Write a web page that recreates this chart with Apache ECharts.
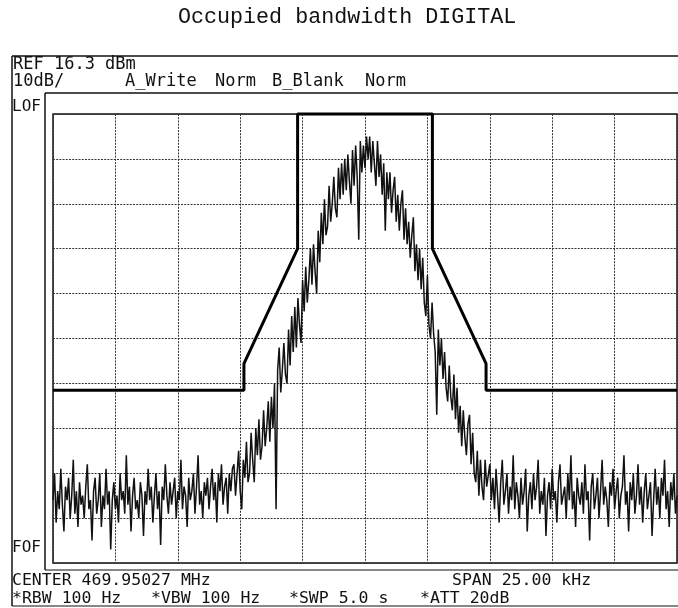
<!DOCTYPE html>
<html>
<head>
<meta charset="utf-8">
<script src="https://cdn.jsdelivr.net/npm/echarts@6/dist/echarts.min.js"></script>
<style>
  html, body { margin: 0; padding: 0; background: #fff; }
  #chart { width: 678px; height: 608px; }
</style>
</head>
<body>
<div id="chart"></div>
<script>
// ---- data ----
const titleText = 'Occupied bandwidth DIGITAL';
const refLine = 'REF 16.3 dBm';
const scaleLine = ['10dB/', 'A_Write', 'Norm', 'B_Blank', 'Norm'];
const sideLabels = ['LOF', 'FOF'];
const centerLine = 'CENTER 469.95027 MHz';
const spanLine = 'SPAN 25.00 kHz';
const settingsLine = ['*RBW 100 Hz', '*VBW 100 Hz', '*SWP 5.0 s', '*ATT 20dB'];

// sweep: 401 points from -12.5 kHz to +12.5 kHz around centre
const sweepStartKHz = -12.5;
const sweepStepKHz = 0.0625;
// trace A (dB relative to reference level, 10 dB/div)
const levelDb = [
  -86,-80,-91,-84,-88,-79,-87,-93,-83,-86,-81,-90,-85,-77,-89,-84,-92,-82,-87,-85,
  -90,-83,-78,-88,-86,-95,-84,-81,-89,-86,-80,-92,-85,-88,-79,-87,-84,-97,-86,-82,
  -88,-85,-91,-80,-86,-84,-89,-76,-87,-83,-93,-85,-81,-88,-86,-90,-82,-85,-94,-84,
  -87,-79,-86,-83,-91,-85,-80,-88,-84,-96,-83,-86,-78,-85,-89,-82,-87,-84,-81,-90,
  -84,-86,-77,-88,-83,-85,-92,-81,-86,-84,-80,-89,-83,-76,-87,-84,-90,-82,-85,-81,
  -88,-83,-79,-86,-82,-91,-80,-84,-78,-87,-83,-81,-89,-80,-84,-79,
  -78,-85,-80,-75,-84,-88,-77,-81,-73,-82,
  -80,-71,-77,-82,-70,-76,-68,-77,-74,-66,
  -74,-70,-64,-73,-63,-70,-60,-88,-57,-52,
  -62,-57,-51,-58,-60,-48,-56,-45,-53,-43,
  -52,-41,-47,-51,-37,-44,-34,-42,-37,-30,
  -38,-29,-35,-40,-26,-33,-22,-29,-19,-27,
  -25,-16,-24,-20,-14,-21,-23,-12,-19,-11,
  -18,-10,-17,-9,-15,-20,-8,-16,-7,-14,
  -28,-6,-13,-7,-12,-5,-10,-5,-13,-6,
  -11,-16,-6,-14,-9,-18,-11,-26,-13,-19,
  -13,-22,-17,-14,-24,-18,-26,-20,-17,-28,
  -21,-29,-24,-32,-27,-23,-35,-29,-37,-30,
  -39,-32,-42,-45,-36,-47,-50,-42,-49,-53,
  -67,-48,-56,-50,-59,-53,-61,-64,-56,-63,
  -66,-58,-68,-61,-71,-65,-74,-66,-72,-76,
  -69,-67,-78,-71,-80,-82,-75,-85,-77,-83,
  -86,-77,-83,
  -83,-78,-86,-81,-88,-79,-85,-91,-82,-77,-87,-84,-80,-89,-83,-86,-76,-88,-82,-85,
  -90,-81,-87,-84,-79,-93,-85,-82,-88,-80,-86,-83,-77,-89,-84,-87,-81,-94,-85,-82,
  -88,-79,-86,-84,-91,-82,-78,-87,-85,-83,-90,-80,-86,-76,-88,-84,-92,-81,-85,-87,
  -82,-89,-78,-86,-84,-95,-83,-80,-88,-85,-81,-90,-84,-77,-87,-83,-86,-92,-82,-85,
  -79,-88,-84,-81,-90,-85,-83,-76,-87,-84,-93,-82,-86,-80,-89,-85,-78,-87,-83,-91,
  -84,-80,-88,-85,-82,-94,-86,-79,-87,-83,-90,-81,-85,-77,-88,-84,-92,-82,-86,-80,-89,-85
];
// spectrum emission mask (limit line)
const maskFreqKHz = [-12.5, -4.85, -4.85, -2.7, -2.7, 2.7, 2.7, 4.85, 4.85, 12.5];
const maskLevelDb = [-61.5, -61.5, -55.6, -30, 0, 0, -30, -55.6, -61.5, -61.5];

// axis scales
const xMin = -12.5, xMax = 12.5, xDiv = 2.5;
const yMin = -100, yMax = 0, yDiv = 10;

// ---- build ----
const traceData = levelDb.map((v, i) => [sweepStartKHz + i * sweepStepKHz, v]);
const maskData = maskFreqKHz.map((f, i) => [f, maskLevelDb[i]]);

const monoFont = '"DejaVu Sans Mono", "Liberation Mono", monospace';
const ink = '#111';

function txt(text, x, y, size, family) {
  return {
    type: 'text', left: x, top: y, silent: true, z: 10,
    style: { text: text, fill: ink, font: (size) + 'px ' + (family || monoFont) }
  };
}
function ln(x1, y1, x2, y2, w) {
  return {
    type: 'line', silent: true,
    shape: { x1: x1, y1: y1, x2: x2, y2: y2 },
    style: { stroke: ink, lineWidth: w || 1.5 }
  };
}

const graphics = [
  txt(titleText, 178, 6, 21.7, '"Liberation Mono", monospace'),
  ln(12, 56, 678, 56, 1.5),
  ln(12, 56, 12, 606, 1.5),
  ln(45, 93, 678, 93, 1.5),
  ln(45, 93, 45, 570, 1.5),
  ln(45, 570, 678, 570, 1.2),
  ln(12, 606, 678, 606, 1.2),
  txt(refLine, 13, 56, 17),
  txt(scaleLine[0], 13, 73, 17),
  txt(scaleLine[1], 125, 73, 17),
  txt(scaleLine[2], 215, 73, 17),
  txt(scaleLine[3], 272, 73, 17),
  txt(scaleLine[4], 365, 73, 17),
  txt(sideLabels[0], 12, 99, 16),
  txt(sideLabels[1], 12, 540, 16),
  txt(centerLine, 12, 572, 16.5),
  txt(spanLine, 452, 572, 16.5),
  txt(settingsLine[0], 12, 590, 16.5),
  txt(settingsLine[1], 151, 590, 16.5),
  txt(settingsLine[2], 289, 590, 16.5),
  txt(settingsLine[3], 420, 590, 16.5)
];

const gridLine = { show: true, lineStyle: { color: '#333', width: 1, type: [2, 1.2] } };

const chart = echarts.init(document.getElementById('chart'), null, { renderer: 'canvas' });
chart.setOption({
  animation: false,
  backgroundColor: '#fff',
  grid: {
    left: 53, top: 114, right: 1, bottom: 45,
    show: true, borderColor: ink, borderWidth: 1.5, backgroundColor: 'transparent'
  },
  xAxis: {
    type: 'value', min: xMin, max: xMax, interval: xDiv,
    axisLine: { show: false }, axisTick: { show: false }, axisLabel: { show: false },
    splitLine: gridLine
  },
  yAxis: {
    type: 'value', min: yMin, max: yMax, interval: yDiv,
    axisLine: { show: false }, axisTick: { show: false }, axisLabel: { show: false },
    splitLine: gridLine
  },
  series: [
    {
      name: 'A_Write', type: 'line', data: traceData, showSymbol: false,
      lineStyle: { color: ink, width: 1.5 }, z: 3
    },
    {
      name: 'Mask', type: 'line', data: maskData, showSymbol: false, clip: false,
      lineStyle: { color: '#000', width: 3 }, z: 4
    }
  ],
  graphic: graphics
});
</script>
</body>
</html>
